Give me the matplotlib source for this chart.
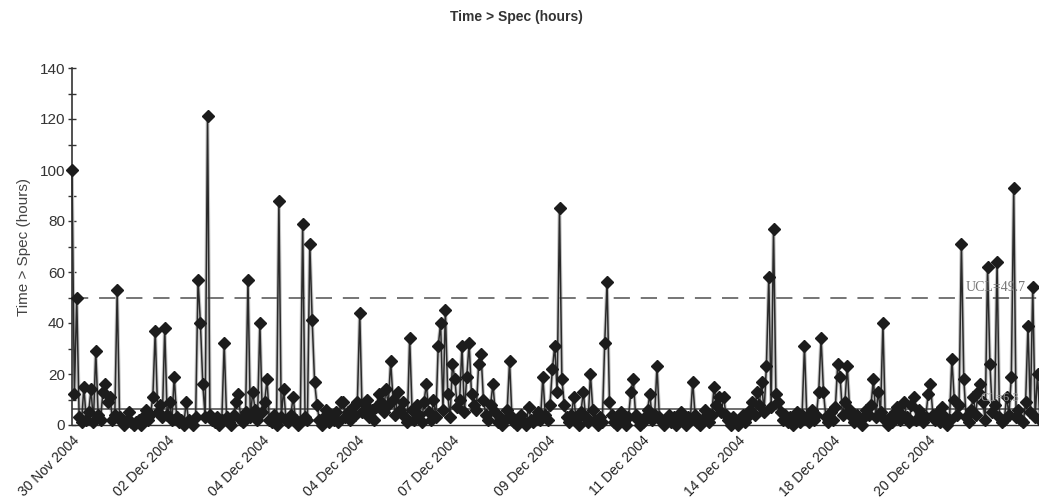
import matplotlib
matplotlib.use("Agg")
import matplotlib.pyplot as plt
from matplotlib.ticker import MultipleLocator

plt.rcParams['font.family'] = ['Liberation Sans', 'DejaVu Sans']

# Hours beyond specification, one value per observation
hours_over_spec = [
    100, 12, 50, 3, 1, 15, 2, 5, 14, 1, 29, 4, 2, 13, 16, 9, 11, 2, 4, 53,
    3, 1, 0, 2, 5, 1, 0, 1, 2, 0, 3, 6, 2, 4, 11, 37, 5, 8, 3, 38,
    4, 9, 2, 19, 3, 1, 2, 0, 9, 2, 1, 0, 3, 57, 40, 16, 3, 121, 4, 2,
    1, 3, 0, 2, 32, 3, 1, 0, 4, 9, 12, 2, 1, 5, 57, 3, 13, 6, 2, 40,
    5, 9, 18, 2, 1, 4, 0, 88, 3, 14, 2, 1, 4, 11, 2, 0, 1, 79, 3, 2,
    71, 41, 17, 8, 2, 0, 3, 6, 1, 4, 2, 5, 1, 9, 9, 3, 5, 2, 7, 4,
    9, 44, 5, 8, 10, 3, 6, 2, 7, 12, 9, 5, 14, 8, 25, 10, 4, 13, 6, 9,
    3, 1, 34, 6, 2, 8, 4, 1, 9, 16, 5, 2, 10, 3, 31, 40, 6, 45, 12, 3,
    24, 18, 7, 10, 31, 5, 19, 32, 12, 8, 6, 24, 28, 10, 4, 2, 8, 16, 5, 1,
    3, 0, 2, 6, 25, 3, 1, 0, 2, 4, 1, 0, 7, 2, 1, 3, 5, 2, 19, 4,
    2, 8, 22, 31, 13, 85, 18, 8, 3, 1, 4, 11, 2, 0, 5, 13, 3, 1, 20, 6,
    2, 0, 3, 1, 32, 56, 9, 4, 1, 0, 2, 5, 1, 0, 3, 13, 18, 4, 2, 0,
    1, 3, 6, 12, 2, 4, 23, 3, 1, 0, 2, 4, 1, 3, 0, 1, 5, 2, 0, 3,
    2, 17, 4, 1, 0, 2, 6, 3, 1, 4, 15, 8, 11, 5, 11, 4, 2, 0, 3, 1,
    0, 2, 4, 1, 3, 6, 9, 4, 13, 8, 17, 5, 23, 58, 7, 77, 12, 9, 5, 2,
    4, 1, 3, 0, 2, 5, 1, 4, 31, 3, 1, 6, 2, 4, 13, 34, 13, 3, 1, 5,
    2, 7, 24, 19, 4, 9, 23, 6, 3, 1, 4, 2, 0, 3, 6, 4, 8, 18, 3, 13,
    5, 40, 2, 0, 3, 1, 5, 7, 2, 4, 9, 3, 1, 8, 11, 2, 6, 4, 1, 3,
    12, 16, 4, 2, 5, 1, 7, 3, 0, 2, 26, 10, 4, 8, 71, 18, 3, 1, 6, 11,
    4, 13, 16, 9, 2, 62, 24, 5, 8, 64, 3, 1, 2, 11, 4, 19, 93, 3, 6, 2,
    1, 9, 39, 5, 54, 3, 20, 2,
]

# Control limits
ucl = 49.7
center = 6.3

# Date labels placed every 40 observations
date_tick_pos = [0, 40, 80, 120, 160, 200, 240, 280, 320, 360]
date_tick_labels = ['30 Nov 2004', '02 Dec 2004', '04 Dec 2004', '04 Dec 2004',
                    '07 Dec 2004', '09 Dec 2004', '11 Dec 2004', '14 Dec 2004',
                    '18 Dec 2004', '20 Dec 2004']

fig = plt.figure(figsize=(10.39, 5.04), dpi=100)
ax = fig.add_axes([72 / 1039, 1 - 425 / 504, 1 - 72 / 1039 + 0.002, (425 - 68) / 504])

obs = list(range(len(hours_over_spec)))
# light grey body under the trace, then the dark trace with diamond markers
ax.plot(obs, hours_over_spec, color='#c4c4c4', linewidth=2.6, zorder=2)
ax.plot(obs, hours_over_spec, color='#2a2a2a', linewidth=1.1,
        marker='D', markersize=6, markerfacecolor='#1c1c1c',
        markeredgecolor='#1c1c1c', zorder=3, clip_on=False)

ax.axhline(ucl, color='#6a6a6a', linewidth=1.3, linestyle=(0, (9, 6)), zorder=2.5)
ax.axhline(center, color='#555555', linewidth=1.2, zorder=2.5)

ax.text(0.922, ucl + 1.5, 'UCL=49.7', transform=ax.get_yaxis_transform(),
        family=['Liberation Serif', 'DejaVu Serif'], fontsize=10, color='#777777',
        ha='left', va='bottom', zorder=4)
ax.text(0.938, center + 2.0, 'CL=6.3', transform=ax.get_yaxis_transform(),
        family=['Liberation Serif', 'DejaVu Serif'], fontsize=9, color='#999999',
        ha='left', va='bottom', zorder=4)

ax.set_xlim(0, 407.5)
ax.set_ylim(0, 140)

ax.yaxis.set_major_locator(MultipleLocator(20))
ax.yaxis.set_minor_locator(MultipleLocator(10))
ax.tick_params(axis='y', which='both', direction='inout', length=6, width=1,
               color='#333333', labelsize=11, labelcolor='#333333', pad=2)

ax.set_xticks(date_tick_pos)
ax.set_xticklabels(date_tick_labels, rotation=45, ha='right', va='top',
                   rotation_mode='anchor', fontsize=10, color='#222222')
ax.tick_params(axis='x', length=0, pad=6)

for side in ('top', 'right'):
    ax.spines[side].set_visible(False)
ax.spines['left'].set_color('#333333')
ax.spines['left'].set_linewidth(1.2)
ax.spines['bottom'].set_color('#333333')
ax.spines['bottom'].set_linewidth(1.0)

ax.set_ylabel('Time > Spec (hours)', fontsize=11, color='#444444', labelpad=6)
fig.text(0.497, 1 - 17 / 504, 'Time > Spec (hours)', ha='center', va='center',
         fontsize=10, fontweight='bold', color='#333333')

fig.savefig('out.png', dpi=100, facecolor='white')
